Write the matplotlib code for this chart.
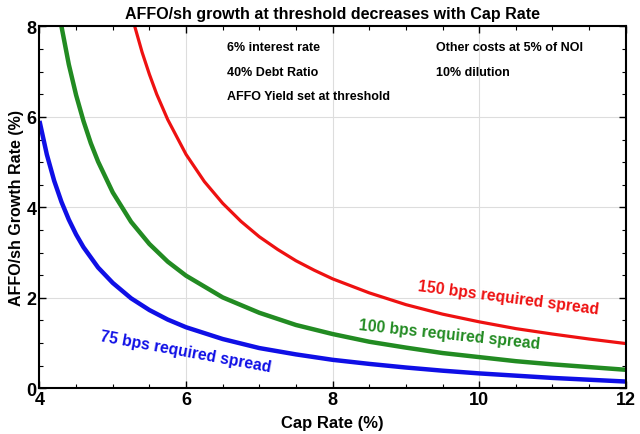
import matplotlib
matplotlib.use("Agg")
import matplotlib.pyplot as plt
from matplotlib.ticker import MultipleLocator

plt.rcParams['font.family'] = ['Liberation Sans', 'DejaVu Sans']
plt.rcParams['font.weight'] = 'bold'

# Cap rate (%) and AFFO/sh growth (%)
cap_75 = [4.0, 4.1, 4.2, 4.3, 4.4, 4.5, 4.6, 4.8, 5.0, 5.25, 5.5, 5.75, 6.0,
          6.5, 7.0, 7.5, 8.0, 8.5, 9.0, 9.5, 10.0, 10.5, 11.0, 11.5, 12.0]
growth_75 = [5.91, 5.17, 4.59, 4.12, 3.73, 3.40, 3.12, 2.67, 2.33, 1.99, 1.73, 1.52, 1.35,
             1.09, 0.89, 0.75, 0.63, 0.54, 0.46, 0.39, 0.33, 0.28, 0.23, 0.19, 0.15]

cap_100 = [4.25, 4.3, 4.4, 4.5, 4.6, 4.7, 4.8, 5.0, 5.25, 5.5, 5.75, 6.0,
           6.5, 7.0, 7.5, 8.0, 8.5, 9.0, 9.5, 10.0, 10.5, 11.0, 11.5, 12.0]
growth_100 = [8.49, 8.00, 7.16, 6.48, 5.91, 5.42, 5.01, 4.33, 3.68, 3.19, 2.80, 2.49,
              2.01, 1.67, 1.40, 1.20, 1.03, 0.90, 0.78, 0.69, 0.60, 0.53, 0.47, 0.41]

cap_150 = [5.25, 5.3, 5.4, 5.5, 5.6, 5.75, 6.0, 6.25, 6.5, 6.75, 7.0, 7.25, 7.5,
           7.75, 8.0, 8.5, 9.0, 9.5, 10.0, 10.5, 11.0, 11.5, 12.0]
growth_150 = [8.31, 8.00, 7.43, 6.94, 6.50, 5.94, 5.17, 4.57, 4.09, 3.69, 3.35, 3.07, 2.82,
              2.61, 2.42, 2.11, 1.85, 1.64, 1.47, 1.32, 1.20, 1.09, 0.99]

series_labels = ["75 bps required spread", "100 bps required spread", "150 bps required spread"]
notes = ["6% interest rate", "Other costs at 5% of NOI", "40% Debt Ratio",
         "10% dilution", "AFFO Yield set at threshold"]

fig = plt.figure(figsize=(6.4, 4.35), dpi=100)
ax = fig.add_axes([0.0617, 0.105, 0.916, 0.832])

blue, green, red = '#0f0fe6', '#228b22', '#ee1111'
ax.plot(cap_75, growth_75, color=blue, lw=3.2, solid_capstyle='butt')
ax.plot(cap_100, growth_100, color=green, lw=3.2, solid_capstyle='butt')
ax.plot(cap_150, growth_150, color=red, lw=2.3, solid_capstyle='butt')

ax.set_xlim(4, 12)
ax.set_ylim(0, 8)
ax.xaxis.set_major_locator(MultipleLocator(2))
ax.yaxis.set_major_locator(MultipleLocator(2))
ax.xaxis.set_minor_locator(MultipleLocator(0.5))
ax.yaxis.set_minor_locator(MultipleLocator(0.5))
ax.grid(True, which='major', color='#dddddd', lw=0.8)
ax.set_axisbelow(True)
ax.tick_params(which='both', direction='in', top=True, right=True)
ax.tick_params(which='major', length=5, width=1.0, labelsize=13, pad=2)
ax.tick_params(which='minor', length=3, width=0.8)
for lab in ax.get_xticklabels() + ax.get_yticklabels():
    lab.set_fontweight('bold')
for s in ax.spines.values():
    s.set_linewidth(1.5)

ax.set_title("AFFO/sh growth at threshold decreases with Cap Rate",
             fontsize=11.5, fontweight='bold', pad=6)
ax.set_xlabel("Cap Rate (%)", fontsize=12, fontweight='bold', labelpad=5)
ax.set_ylabel("AFFO/sh Growth Rate (%)", fontsize=11.5, fontweight='bold', labelpad=2)

ax.text(5.99, 0.82, series_labels[0], color=blue, fontsize=11.3, fontweight='bold',
        rotation=-10.4, ha='center', va='center', rotation_mode='anchor')
ax.text(9.60, 1.20, series_labels[1], color=green, fontsize=11.3, fontweight='bold',
        rotation=-6.0, ha='center', va='center', rotation_mode='anchor')
ax.text(10.40, 2.02, series_labels[2], color=red, fontsize=11.3, fontweight='bold',
        rotation=-7.4, ha='center', va='center', rotation_mode='anchor')

note_pos = [(6.56, 7.55), (9.41, 7.55), (6.56, 7.0), (9.41, 7.0), (6.56, 6.46)]
for (nx, ny), t in zip(note_pos, notes):
    ax.text(nx, ny, t, fontsize=9, fontweight='bold', ha='left', va='center')

fig.savefig("out.png", dpi=100)
